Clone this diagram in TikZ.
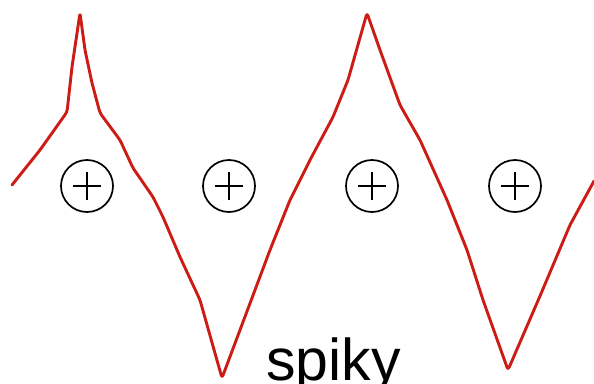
\documentclass[tikz,border=0pt]{standalone}
\usepackage{fontspec}
\setmainfont{Liberation Sans}
\definecolor{wavered}{RGB}{205,28,22}
\begin{document}
\begin{tikzpicture}[x=1pt,y=-1pt,
  wave/.style={draw=wavered,line width=2.9pt,line join=round,line cap=round,rounded corners=3pt},
  plusmark/.style={circle,draw=black,line width=1.7pt,minimum size=52pt,inner sep=0pt},
  plusbar/.style={draw=black,line width=1.7pt}]
\useasboundingbox[fill=white] (0,0) rectangle (594,383);
% wave
\coordinate (w0) at (12,185);
\coordinate (w1) at (594,181);
\draw[wave] (w0) -- (40,150) -- (67,112) -- (72,67) -- (80,13) -- (85,50) -- (92,83) -- (100,113)
  -- (120,140) -- (133,168) -- (153,197) -- (163,217) -- (180,257) -- (200,300)
  -- (222,378) -- (270,250) -- (290,200) -- (310,160) -- (333,117) -- (348,80)
  -- (367,13) -- (380,50) -- (400,105) -- (420,140) -- (447,200) -- (467,250)
  -- (483,300) -- (508,370) -- (540,296) -- (570,225) -- (w1);
% circled plus signs
\foreach \i/\x in {1/87,2/229,3/372,4/515}{
  \node[plusmark] (c\i) at (\x,186) {};
  \draw[plusbar] (c\i.center) +(-14,0) -- +(14,0);
  \draw[plusbar] (c\i.center) +(0,-14) -- +(0,14);
}
% label (cut off at the lower edge, as in the reference)
\node[anchor=base west,inner sep=0pt,font=\fontsize{59}{59}\selectfont] (lbl) at (266,380) {spiky};
\end{tikzpicture}
\end{document}
